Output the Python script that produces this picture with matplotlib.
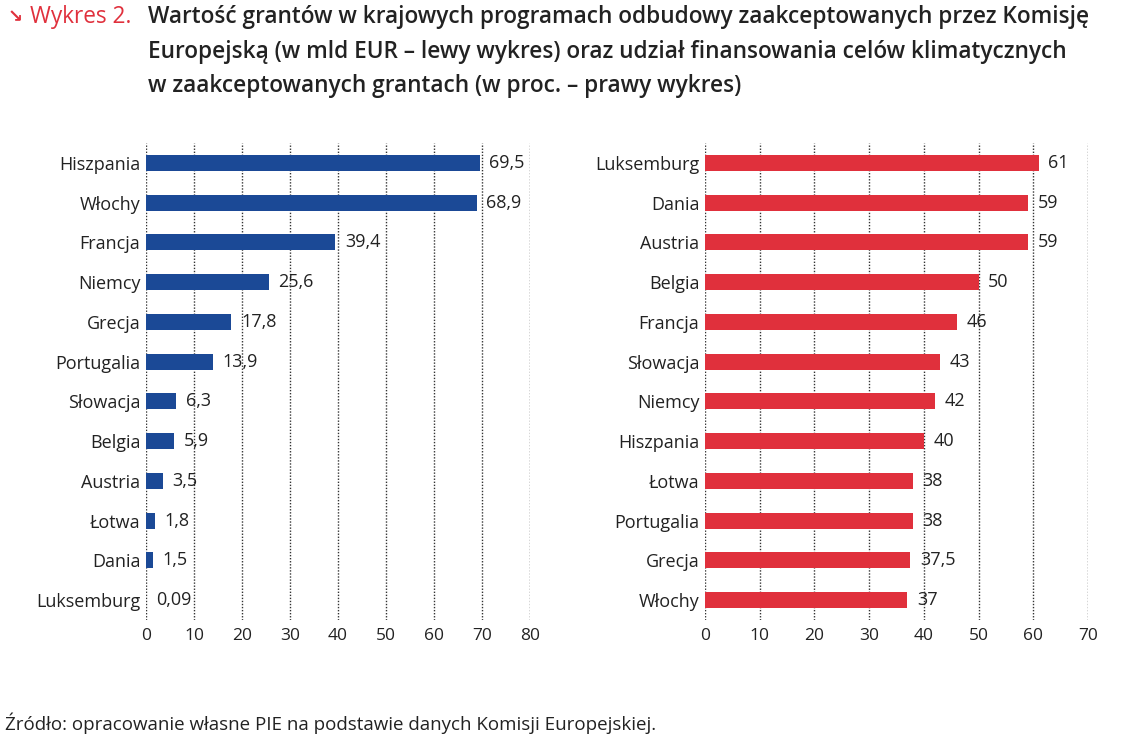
import matplotlib.pyplot as plt

# left chart: grants (bn EUR)
left_countries = ["Hiszpania", "Włochy", "Francja", "Niemcy", "Grecja", "Portugalia",
                  "Słowacja", "Belgia", "Austria", "Łotwa", "Dania", "Luksemburg"]
left_values = [69.5, 68.9, 39.4, 25.6, 17.8, 13.9, 6.3, 5.9, 3.5, 1.8, 1.5, 0.09]
left_labels = ["69,5", "68,9", "39,4", "25,6", "17,8", "13,9", "6,3", "5,9", "3,5", "1,8", "1,5", "0,09"]

# right chart: climate share (%)
right_countries = ["Luksemburg", "Dania", "Austria", "Belgia", "Francja", "Słowacja",
                   "Niemcy", "Hiszpania", "Łotwa", "Portugalia", "Grecja", "Włochy"]
right_values = [61, 59, 59, 50, 46, 43, 42, 40, 38, 38, 37.5, 37]
right_labels = ["61", "59", "59", "50", "46", "43", "42", "40", "38", "38", "37,5", "37"]

BLUE = "#1b4996"
RED = "#e0303c"
TEXT = "#222222"

plt.rcParams['font.family'] = ['Open Sans', 'DejaVu Sans']

fig = plt.figure(figsize=(11.27, 7.4), dpi=100)


def draw(ax, countries, values, labels, color, xmax, step):
    y = list(range(len(countries)))
    ax.barh(y, values, height=0.4, color=color, zorder=3)
    for yi, v, lab in zip(y, values, labels):
        ax.annotate(lab, (v, yi), xytext=(7, 0), textcoords="offset points",
                    va="center", ha="left", fontsize=13, color=TEXT, zorder=4)
    ax.set_yticks(y)
    ax.set_yticklabels(countries, fontsize=13, color=TEXT)
    ax.set_ylim(len(countries) - 0.5, -0.5)
    ax.set_xlim(0, xmax)
    ax.set_xticks(range(0, xmax + 1, step))
    ax.tick_params(axis="x", labelsize=12.5, colors=TEXT, length=0, pad=6)
    ax.tick_params(axis="y", length=0, pad=4)
    for s in ax.spines.values():
        s.set_visible(False)
    for t in range(0, xmax + 1, step):
        ax.axvline(t, color="#333333", linestyle=(0, (1, 1.2)), linewidth=1, zorder=1)


ax1 = fig.add_axes([0.1295, 0.1622, 0.3407, 0.6446])
draw(ax1, left_countries, left_values, left_labels, BLUE, 80, 10)

ax2 = fig.add_axes([0.6256, 0.1622, 0.3398, 0.6446])
draw(ax2, right_countries, right_values, right_labels, RED, 70, 10)

# title
fig.text(0.007, 0.977, "↘", color=RED, fontsize=13, va="center", ha="left",
         family=['DejaVu Sans'], fontweight="bold")
fig.text(0.027, 0.977, "Wykres 2.", color=RED, fontsize=16.3, va="center", ha="left")
title = ["Wartość grantów w krajowych programach odbudowy zaakceptowanych przez Komisję",
         "Europejską (w mld EUR – lewy wykres) oraz udział finansowania celów klimatycznych",
         "w zaakceptowanych grantach (w proc. – prawy wykres)"]
for i, line in enumerate(title):
    fig.text(0.131, 0.977 - i * 0.0466, line, color=TEXT, fontsize=16.3, va="center",
             ha="left", fontweight="semibold")

fig.text(0.004, 0.023, "Źródło: opracowanie własne PIE na podstawie danych Komisji Europejskiej.",
         color=TEXT, fontsize=13.5, va="center", ha="left")

fig.savefig("out.png", dpi=100)
